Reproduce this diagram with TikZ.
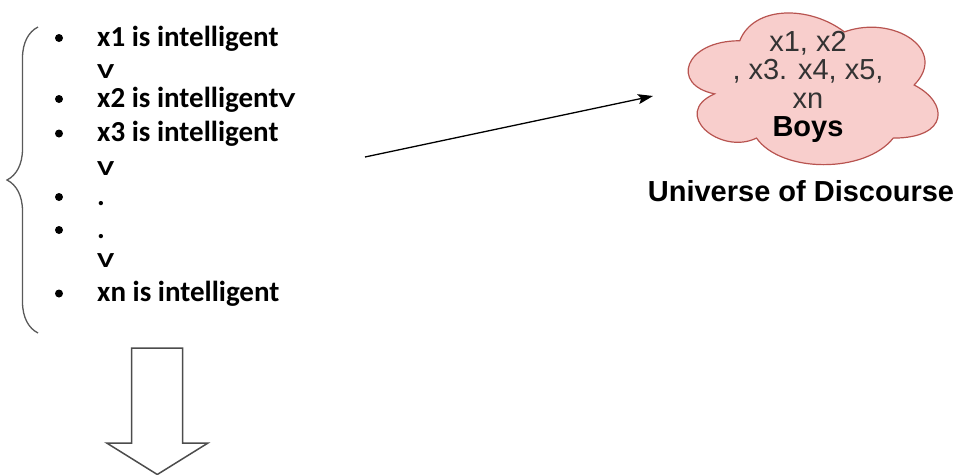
\documentclass[tikz,border=0pt]{standalone}
\usepackage{fontspec}
\setmainfont{Liberation Sans}
\newfontfamily\calibrifont{Carlito}
\newcommand{\orsign}{\scalebox{1}[0.74]{V}}
\usetikzlibrary{arrows.meta}
\usetikzlibrary{decorations.pathreplacing}
\definecolor{cloudfill}{HTML}{F8CECC}
\definecolor{cloudline}{HTML}{B85450}
\definecolor{darktext}{HTML}{333333}

\begin{document}
\begin{tikzpicture}[x=1pt, y=-1pt,
  listtext/.style={anchor=base west, inner sep=0, font=\calibrifont\bfseries\fontsize{29}{34}\selectfont},
  arialtext/.style={inner sep=0, font=\fontsize{29}{28.5}\selectfont}]
\useasboundingbox (0,0) rectangle (958,474);
% the statements, joined by V
\foreach \i/\y/\b/\t in {1/46/1/x1 is intelligent, 2/78/0/\orsign, 3/107/1/x2 is intelligent\orsign,
  4/141.5/1/x3 is intelligent, 5/175/0/\orsign, 6/205/1/., 7/238/1/., 8/267/0/\orsign, 9/301.5/1/xn is intelligent} {
 \ifnum\b=1 \fill (59,{\y-8}) circle[radius=4pt]; \fi
 \node[listtext] (row\i) at (97,\y) {\t};
}
\draw[gray!70!black, line width=1.3pt, decorate, decoration={brace, amplitude=31pt}] (38,333) -- (38,27);
% universe of discourse
\begin{scope}[shift={(670,-3.5)}, x=279pt, y=-177pt]
\draw[cloudline, fill=cloudfill, line width=1.2pt] (0.25,0.25) .. controls (0.05,0.25) and (0,0.5) .. (0.16,0.55)
 .. controls (0,0.66) and (0.18,0.9) .. (0.31,0.8) .. controls (0.4,1) and (0.7,1) .. (0.8,0.8)
 .. controls (1,0.8) and (1,0.6) .. (0.875,0.5) .. controls (1,0.3) and (0.8,0.1) .. (0.625,0.2)
 .. controls (0.5,0.05) and (0.3,0.05) .. (0.25,0.25) -- cycle;
\end{scope}
\node[arialtext, align=center, text=darktext] (boys) at (808,87) {x1, x2\\, x3. x4, x5,\\xn\\\textcolor{black}{\bfseries Boys}};
\node[arialtext, anchor=base, font=\fontsize{29}{34}\selectfont\bfseries] (uod) at (801,201) {Universe of Discourse};
\coordinate (from) at (365,157);
\coordinate (to) at (653,96);
\draw[black, line width=1.3pt, ->, >={Stealth[length=15pt, width=10pt, inset=3pt]}] (from) -- (to);
% down arrow
\draw[gray!60!black, line width=1.5pt, line join=miter] (131.7,348) -- (182.7,348) -- (182.7,443) -- (208,443)
 -- (157.3,474.5) -- (106.7,443) -- (131.7,443) -- cycle;
\end{tikzpicture}
\end{document}
